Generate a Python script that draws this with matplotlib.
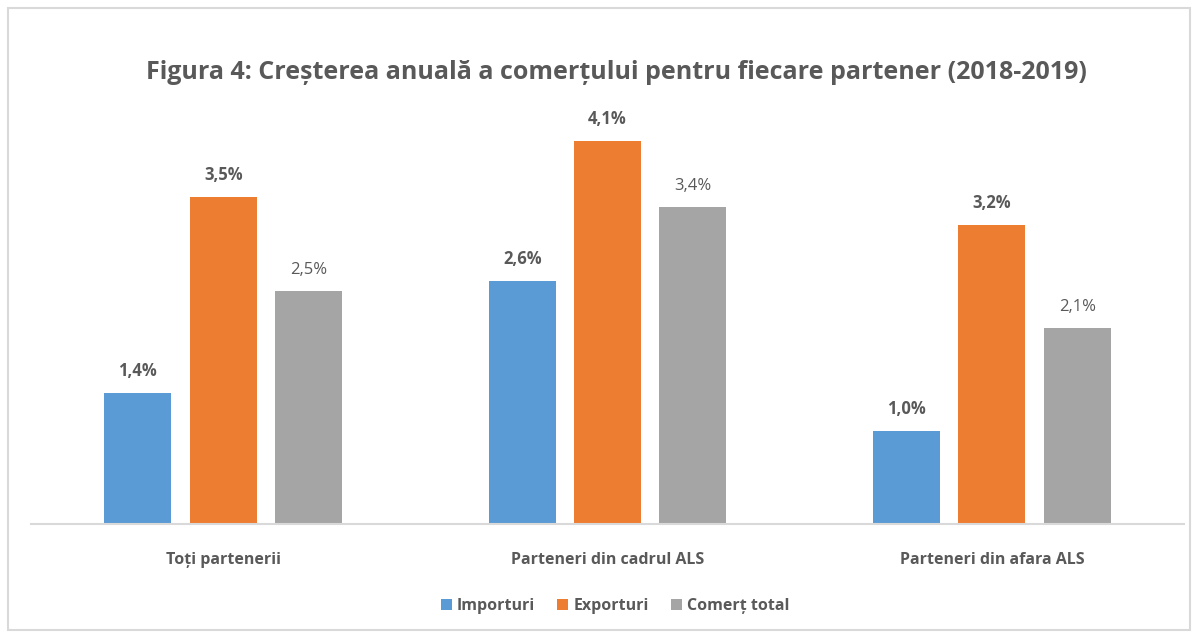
import matplotlib.pyplot as plt
import numpy as np
from matplotlib.patches import Rectangle
from matplotlib import font_manager

# pick a narrow font if there is one, like Calibri in the original
names = set(f.name for f in font_manager.fontManager.ttflist)
fam = 'Liberation Sans Narrow' if 'Liberation Sans Narrow' in names else 'Open Sans'
plt.rcParams['font.family'] = [fam, 'DejaVu Sans']

categories = ['Toți partenerii', 'Parteneri din cadrul ALS', 'Parteneri din afara ALS']
importuri = [1.4, 2.6, 1.0]
exporturi = [3.5, 4.1, 3.2]
comert_total = [2.5, 3.4, 2.1]
series_names = ['Importuri', 'Exporturi', 'Comerț total']
colors = ['#5b9bd5', '#ed7d31', '#a5a5a5']
txt = '#595959'

fig = plt.figure(figsize=(11.94, 6.32), dpi=100)
ax = fig.add_axes([0.026, 0.171, 0.9657, 0.6646])

x = np.arange(len(categories))
w = 0.174
step = 0.222
data = [importuri, exporturi, comert_total]
for i, (vals, name, c) in enumerate(zip(data, series_names, colors)):
    pos = x + (i - 1) * step
    ax.bar(pos, vals, w, color=c, label=name)
    for p, v in zip(pos, vals):
        ax.text(p, v + 0.14, ('%.1f%%' % v).replace('.', ','), ha='center', va='bottom',
                fontsize=12, color=txt, fontweight='bold' if i < 2 else 'normal')

ax.set_xlim(-0.5, 2.5)
ax.set_ylim(0, 4.5)
ax.set_yticks([])
ax.set_xticks(x)
ax.set_xticklabels(categories, fontsize=11.5, fontweight='bold', color=txt)
ax.tick_params(axis='x', length=0, pad=20)
for s in ['top', 'right', 'left']:
    ax.spines[s].set_visible(False)
ax.spines['bottom'].set_color('#d9d9d9')
ax.spines['bottom'].set_linewidth(1.5)

fig.text(0.516, 0.886, 'Figura 4: Creșterea anuală a comerțului pentru fiecare partener (2018-2019)',
         ha='center', va='center', fontsize=18, fontweight='bold', color=txt)

leg = fig.legend(loc='center', bbox_to_anchor=(0.515, 0.041), ncol=3, frameon=False,
                 handlelength=0.7, handleheight=0.7, handletextpad=0.3, columnspacing=1.4,
                 prop={'size': 11.5, 'weight': 'bold'})
for t in leg.get_texts():
    t.set_color(txt)

fig.patches.append(Rectangle((0.007, 0.003), 0.99, 0.984, transform=fig.transFigure,
                             fill=False, edgecolor='#d9d9d9', linewidth=1.5))

fig.savefig('out.png', dpi=100)
